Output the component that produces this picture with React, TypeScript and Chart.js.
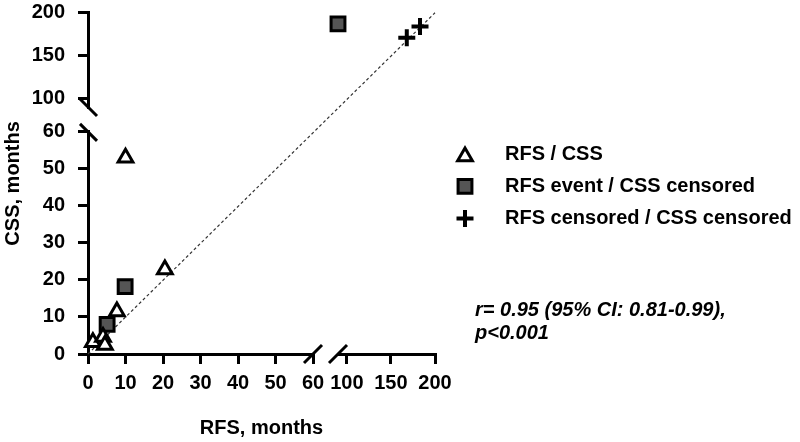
import React, { useEffect, useRef } from 'react';
import { Chart, registerables, PointElement } from 'chart.js';

Chart.register(...registerables);

// ---------------- data ----------------
const seriesLabels = ['RFS / CSS', 'RFS event / CSS censored', 'RFS censored / CSS censored'];
// RFS / CSS (both events) – lower segment
const rfsCssRfs = [1.3, 4.0, 4.5, 7.7, 10, 20.5];
const rfsCssCss = [3.2, 4.6, 2.4, 11.5, 53, 22.8];
// RFS event / CSS censored
const eventLowRfs = [5.1, 9.9];
const eventLowCss = [8, 18.2];
const eventHighRfs = [90];
const eventHighCss = [187];
// RFS censored / CSS censored
const censoredRfs = [168, 183];
const censoredCss = [171, 184];
// axis ticks
const lowerTicks = [0, 10, 20, 30, 40, 50, 60];
const upperTicks = [100, 150, 200];
// identity line (corner to corner of the plotting area)
const identityEnds = [0, 1];
const annotationLines = ['r= 0.95 (95% CI: 0.81-0.99),', 'p<0.001'];
const xTitleText = 'RFS, months';
const yTitleText = 'CSS, months';

// ---------------- styles ----------------
const FONT = '"Liberation Sans", Arial, Helvetica, sans-serif';
const axisFont = { family: FONT, size: 20, weight: 'bold' as const, lineHeight: 1.0 };
const titleFont = { family: FONT, size: 20, weight: 'bold' as const, lineHeight: 1.2 };

const triStyle = { pointStyle: 'triangle', radius: 8.5, borderWidth: 3, borderColor: '#000', backgroundColor: '#fff', rotation: 0 };
const sqStyle = { pointStyle: 'rect', radius: 9.8, borderWidth: 3, borderColor: '#000', backgroundColor: '#555555', rotation: 0 };
const crossStyle = { pointStyle: 'cross', radius: 8.5, borderWidth: 4, borderColor: '#000', backgroundColor: '#000', rotation: 0 };
const legendStyles = [triStyle, sqStyle, crossStyle];

const zip = (xs: number[], ys: number[]) => xs.map((x, i) => ({ x, y: ys[i] }));

const pointDs = (label: string, data: any[], st: any, xAxisID: string, yAxisID: string) => ({
  label,
  data,
  xAxisID,
  yAxisID,
  showLine: false,
  clip: false,
  pointStyle: st.pointStyle,
  pointRadius: st.radius,
  pointHoverRadius: st.radius,
  pointBorderWidth: st.borderWidth,
  pointBorderColor: st.borderColor,
  pointBackgroundColor: st.backgroundColor,
  borderColor: st.borderColor,
  backgroundColor: st.backgroundColor,
  borderWidth: st.borderWidth,
});

const fixSize = (w: number | null, h: number | null) => (scale: any) => {
  if (w !== null) scale.width = w;
  if (h !== null) scale.height = h;
  scale.paddingTop = 0;
  scale.paddingBottom = 0;
  scale.paddingLeft = 0;
  scale.paddingRight = 0;
};

const tickedAxis = (ticks: number[], position: string, stackWeight: number, weight: number, min: number, max: number, padding: number) => ({
  type: 'linear' as const,
  position,
  stack: position === 'bottom' ? 'xs' : 'ys',
  stackWeight,
  weight,
  min,
  max,
  grid: { display: true, drawOnChartArea: false, drawTicks: true, tickLength: 10, lineWidth: 3, color: '#000' },
  border: { display: true, width: 3, color: '#000' },
  ticks: { color: '#000', font: axisFont, padding, autoSkip: false, maxRotation: 0, minRotation: 0 },
  afterBuildTicks: (scale: any) => {
    scale.ticks = ticks.map((v) => ({ value: v }));
  },
  afterFit: position === 'bottom' ? fixSize(null, 39) : fixSize(60, null),
});

const titleAxis = (text: string, position: string, padding: any, size: number) => ({
  type: 'linear' as const,
  position,
  weight: 10,
  grid: { display: false, drawTicks: false, drawOnChartArea: false },
  border: { display: false },
  ticks: { display: false },
  title: { display: true, text, color: '#000', font: titleFont, padding },
  afterFit: position === 'bottom' ? fixSize(null, size) : fixSize(size, null),
});

const decorPlugin = {
  id: 'decor',
  afterDraw(chart: any) {
    const { ctx, chartArea, scales } = chart;
    ctx.save();
    // axis break marks
    ctx.strokeStyle = '#000';
    ctx.lineWidth = 3;
    ctx.lineCap = 'butt';
    const seg = (x1: number, y1: number, x2: number, y2: number) => {
      ctx.beginPath();
      ctx.moveTo(x1, y1);
      ctx.lineTo(x2, y2);
      ctx.stroke();
    };
    const xb = scales.x1.top;
    seg(scales.x1.right - 9, xb + 9, scales.x1.right + 9, xb - 9);
    seg(scales.x2.left - 9, xb + 9, scales.x2.left + 9, xb - 9);
    const yb = scales.y1.right;
    seg(yb - 8, scales.y1.top - 8, yb + 9, scales.y1.top + 9);
    seg(yb - 8, scales.y2.bottom - 8, yb + 9, scales.y2.bottom + 9);

    // legend
    const lx = chartArea.right + 30;
    const midY = (chartArea.top + chartArea.bottom) / 2;
    const rowH = 32;
    const area = { left: 0, top: 0, right: chart.width, bottom: chart.height };
    ctx.font = `bold 20px ${FONT}`;
    ctx.textBaseline = 'middle';
    ctx.textAlign = 'left';
    seriesLabels.forEach((label, i) => {
      const y = midY - rowH + i * rowH + 3;
      const st = legendStyles[i];
      const el: any = new (PointElement as any)({});
      el.x = lx;
      el.y = st.pointStyle === 'triangle' ? y + 2 : y;
      el.options = { ...st, hitRadius: 0, hoverRadius: 0 };
      el.draw(ctx, area);
      ctx.fillStyle = '#000';
      ctx.fillText(label, lx + 40, y);
    });

    // annotation
    ctx.font = `italic bold 20px ${FONT}`;
    ctx.fillStyle = '#000';
    annotationLines.forEach((line, i) => {
      ctx.fillText(line, chartArea.right + 40, chartArea.bottom - 44 + i * 23);
    });
    ctx.restore();
  },
};

export default function App() {
  const ref = useRef<HTMLCanvasElement | null>(null);

  useEffect(() => {
    if (!ref.current) return;
    const chart = new Chart(ref.current, {
      type: 'scatter',
      data: {
        datasets: [
          pointDs(seriesLabels[0], zip(rfsCssRfs, rfsCssCss), triStyle, 'x1', 'y1'),
          pointDs(seriesLabels[1], zip(eventLowRfs, eventLowCss), sqStyle, 'x1', 'y1'),
          pointDs(seriesLabels[1], zip(eventHighRfs, eventHighCss), sqStyle, 'x2', 'y2'),
          pointDs(seriesLabels[2], zip(censoredRfs, censoredCss), crossStyle, 'x2', 'y2'),
          {
            label: 'identity',
            data: identityEnds.map((v) => ({ x: v, y: v })),
            xAxisID: 'xd',
            yAxisID: 'yd',
            showLine: true,
            clip: false,
            borderColor: '#333',
            borderWidth: 1.2,
            borderDash: [3, 2.5],
            pointRadius: 0,
            pointHoverRadius: 0,
          } as any,
        ],
      },
      options: {
        animation: false,
        responsive: false,
        devicePixelRatio: 1,
        layout: { padding: { top: 10, left: 0, right: 365, bottom: 0 } },
        plugins: { legend: { display: false }, tooltip: { enabled: false } },
        events: [],
        scales: {
          x1: tickedAxis(lowerTicks, 'bottom', 225, 1, 0, 60, 9),
          xg: { type: 'linear', display: false, position: 'bottom', stack: 'xs', stackWeight: 25, weight: 2, afterFit: fixSize(null, 0) },
          x2: tickedAxis(upperTicks, 'bottom', 97, 3, 90, 200, 9),
          xt: titleAxis(xTitleText, 'bottom', { top: 23, bottom: 2 }, 49),
          y1: tickedAxis(lowerTicks, 'left', 224, 1, 0, 60, 13),
          yg: { type: 'linear', display: false, position: 'left', stack: 'ys', stackWeight: 25, weight: 2, afterFit: fixSize(0, null) },
          y2: tickedAxis(upperTicks, 'left', 95, 3, 90, 200, 13),
          yt: titleAxis(yTitleText, 'left', { top: 1, bottom: 3 }, 28),
          xd: { type: 'linear', display: false, position: 'top', min: 0, max: 1, afterFit: fixSize(null, 0) },
          yd: { type: 'linear', display: false, position: 'right', min: 0, max: 1, afterFit: fixSize(0, null) },
        } as any,
      },
      plugins: [decorPlugin],
    });
    return () => chart.destroy();
  }, []);

  return (
    <div style={{ position: 'absolute', left: 0, top: 0, width: 800, height: 442, background: '#fff' }}>
      <canvas ref={ref} width={800} height={442} style={{ width: 800, height: 442, display: 'block' }} />
    </div>
  );
}
